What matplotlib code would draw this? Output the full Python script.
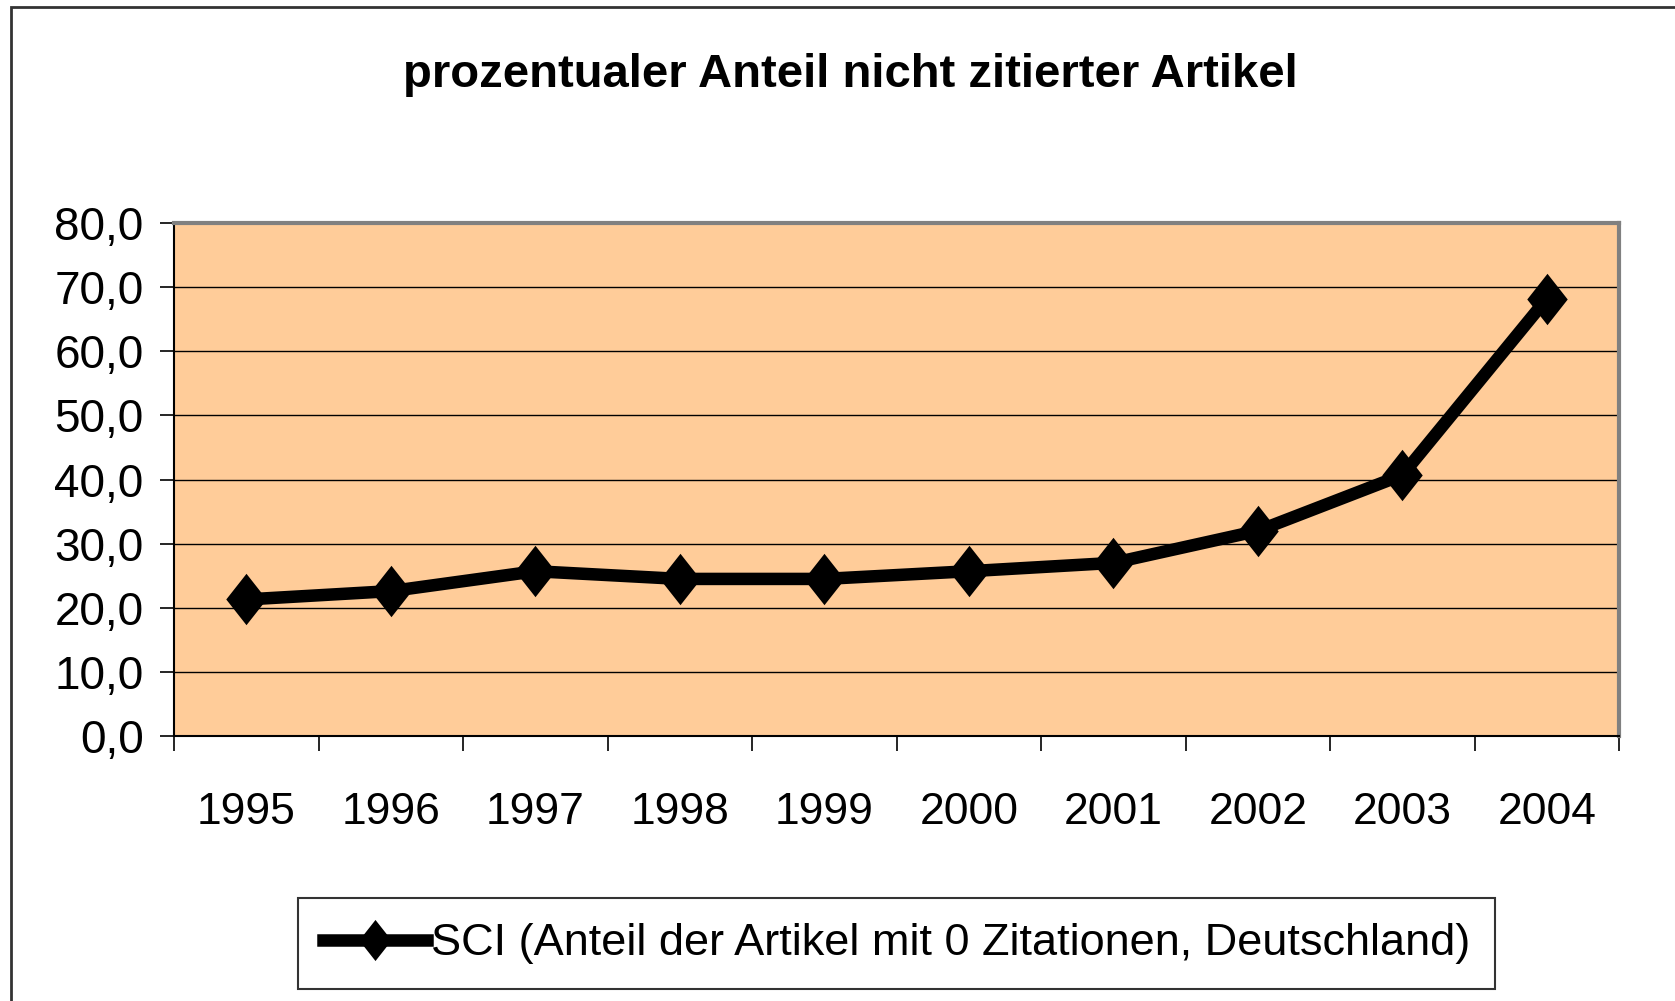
import matplotlib.pyplot as plt
from matplotlib.patches import Rectangle
from matplotlib.path import Path
from matplotlib.ticker import FixedLocator, FuncFormatter

# --- data ---
years = ['1995', '1996', '1997', '1998', '1999', '2000', '2001', '2002', '2003', '2004']
anteil = [21.3, 22.6, 25.7, 24.5, 24.5, 25.7, 27.0, 32.0, 40.7, 68.2]
y_ticks = [0, 10, 20, 30, 40, 50, 60, 70, 80]

title = 'prozentualer Anteil nicht zitierter Artikel'
series_label = 'SCI (Anteil der Artikel mit 0 Zitationen, Deutschland)'

plt.rcParams['font.family'] = ['Liberation Sans', 'DejaVu Sans']

fig = plt.figure(figsize=(16.75, 10.01), dpi=100)
ax = fig.add_axes([0.104, 0.2647, 0.8626, 0.5125])
ax.set_facecolor('#FFCC99')

# tall diamond marker like the Excel one
diamond = Path([(0, 1.27), (1, 0), (0, -1.27), (-1, 0), (0, 1.27)],
               [Path.MOVETO, Path.LINETO, Path.LINETO, Path.LINETO, Path.CLOSEPOLY])

x = list(range(len(years)))
ax.plot(x, anteil, color='black', linewidth=9, marker=diamond, markersize=37,
        markerfacecolor='black', markeredgewidth=0, label=series_label,
        solid_joinstyle='miter', zorder=3)

ax.set_xlim(-0.5, len(years) - 0.5)
ax.set_ylim(0, 80)

# gridlines
for v in y_ticks[1:-1]:
    ax.axhline(v, color='black', linewidth=1.0, zorder=1)

ax.set_yticks(y_ticks)
ax.yaxis.set_major_formatter(FuncFormatter(lambda v, p: f'{v:.1f}'.replace('.', ',')))
ax.tick_params(axis='y', direction='out', length=10, width=1.2, labelsize=33, pad=12)

ax.set_xticks(x)
ax.set_xticklabels(years)
ax.xaxis.set_minor_locator(FixedLocator([i - 0.5 for i in range(len(years) + 1)]))
ax.tick_params(axis='x', which='major', length=0, labelsize=32, pad=40)
ax.tick_params(axis='x', which='minor', direction='out', length=11, width=1.2)

for side in ['top', 'right']:
    ax.spines[side].set_color('#808080')
    ax.spines[side].set_linewidth(3)
for side in ['left', 'bottom']:
    ax.spines[side].set_color('black')
    ax.spines[side].set_linewidth(1.5)

fig.text(0.5077, 0.925, title, ha='center', va='center', fontsize=34, fontweight='bold')

leg = ax.legend(loc='center', bbox_to_anchor=(0.5, -0.405), fontsize=32.5, frameon=True,
                fancybox=False, edgecolor='black', handlelength=2.3, handletextpad=0.1,
                borderpad=0.55, borderaxespad=0, markerscale=0.8)
leg.get_frame().set_linewidth(1.5)

# outer chart border (only left and top visible in the reference)
fig.patches.append(Rectangle((11 / 1675, -0.05), 1.1, 1 - 7 / 1001 + 0.05,
                             transform=fig.transFigure, fill=False,
                             edgecolor='#333333', linewidth=2))

fig.savefig('out.png', dpi=100)
